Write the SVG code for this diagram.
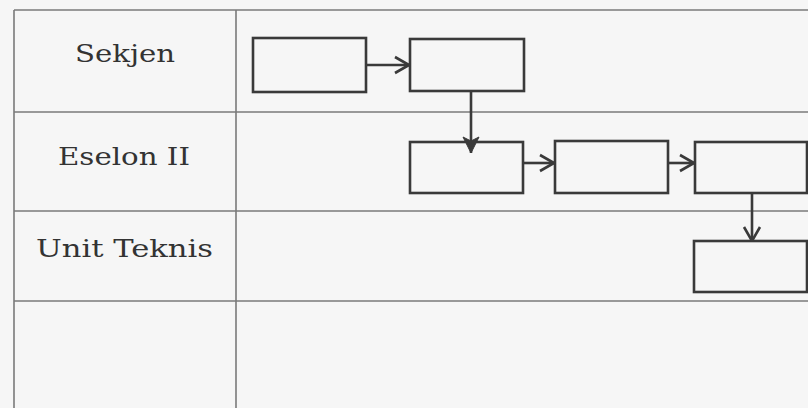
<svg xmlns="http://www.w3.org/2000/svg" width="808" height="408" viewBox="0 0 808 408">
<style>
.grid{stroke:#7a7a7a;stroke-width:1.6;fill:none}
.box{fill:none;stroke:#3a3a3a;stroke-width:2.6}
.lbl{font-family:"DejaVu Serif","Liberation Serif",serif;font-size:25px;fill:#333}
.con{stroke:#3a3a3a;stroke-width:2.6;fill:none}
</style>
<defs>
<marker id="open" viewBox="0 0 16 20" refX="15" refY="10" markerWidth="16" markerHeight="20" markerUnits="userSpaceOnUse" orient="auto">
<path d="M1,2 L15,10 L1,18" fill="none" stroke="#3a3a3a" stroke-width="2.6"/>
</marker>
<marker id="fill" viewBox="0 0 18 18" refX="17" refY="9" markerWidth="18" markerHeight="18" markerUnits="userSpaceOnUse" orient="auto">
<path d="M1,1 L17,9 L1,17 L5,9 Z" fill="#3a3a3a" stroke="#3a3a3a" stroke-width="1"/>
</marker>
</defs>
<rect x="0" y="0" width="808" height="408" fill="#f6f6f6"/>
<g id="table">
<line class="grid" x1="14" y1="10" x2="808" y2="10"/>
<line class="grid" x1="14" y1="112" x2="808" y2="112"/>
<line class="grid" x1="14" y1="211" x2="808" y2="211"/>
<line class="grid" x1="14" y1="301" x2="808" y2="301"/>
<line class="grid" x1="14" y1="10" x2="14" y2="408"/>
<line class="grid" x1="236" y1="10" x2="236" y2="408"/>
</g>
<g id="lane-sekjen"><text class="lbl" x="75" y="62" textLength="100" lengthAdjust="spacingAndGlyphs">Sekjen</text></g>
<g id="lane-eselon"><text class="lbl" x="58" y="165" textLength="132" lengthAdjust="spacingAndGlyphs">Eselon II</text></g>
<g id="lane-unit"><text class="lbl" x="36" y="257" textLength="177" lengthAdjust="spacingAndGlyphs">Unit Teknis</text></g>
<g id="box1"><rect class="box" x="253" y="38" width="113" height="54"/></g>
<g id="box2"><rect class="box" x="410" y="39" width="114" height="52"/></g>
<g id="box3"><rect class="box" x="410" y="142" width="113" height="51"/></g>
<g id="box4"><rect class="box" x="555" y="141" width="113" height="52"/></g>
<g id="box5"><rect class="box" x="695" y="142" width="112" height="51"/></g>
<g id="box6"><rect class="box" x="694" y="241" width="113" height="51"/></g>
<g id="connectors">
<line class="con" x1="366" y1="65" x2="409" y2="65" marker-end="url(#open)"/>
<line class="con" x1="471" y1="91" x2="471" y2="153" marker-end="url(#fill)"/>
<line class="con" x1="523" y1="163" x2="554" y2="163" marker-end="url(#open)"/>
<line class="con" x1="668" y1="163" x2="694" y2="163" marker-end="url(#open)"/>
<line class="con" x1="752" y1="193" x2="752" y2="241" marker-end="url(#open)"/>
</g>
</svg>
